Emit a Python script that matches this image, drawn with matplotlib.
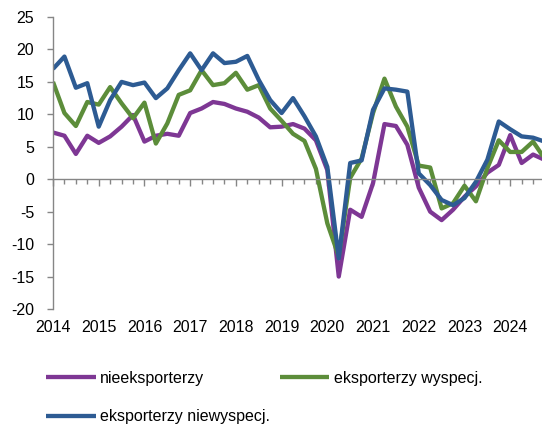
import matplotlib
matplotlib.use("Agg")
import matplotlib.pyplot as plt
import matplotlib.transforms as mtransforms
from matplotlib.ticker import MultipleLocator
import numpy as np

plt.rcParams['font.family'] = ['Liberation Sans', 'DejaVu Sans']
plt.rcParams['axes.unicode_minus'] = False

# quarterly data, 2014 Q1 - 2024 Q4
years = ['2014', '2015', '2016', '2017', '2018', '2019', '2020', '2021', '2022', '2023', '2024']

nieeksporterzy = [7.2, 6.7, 3.9, 6.7, 5.6, 6.6, 8.1, 9.9, 5.8, 6.7,
                  7.0, 6.7, 10.2, 10.9, 11.9, 11.6, 10.9, 10.4, 9.5, 8.0,
                  8.1, 8.5, 7.8, 6.0, 1.4, -15.0, -4.7, -5.8, -0.6, 8.5,
                  8.2, 5.3, -1.3, -5.0, -6.3, -4.7, -2.7, -1.1, 1.0, 2.2,
                  6.8, 2.5, 3.8, 3.0]
wyspecj = [15.0, 10.2, 8.2, 11.9, 11.5, 14.2, 11.7, 9.4, 11.8, 5.5,
           8.6, 13.0, 13.7, 16.8, 14.5, 14.8, 16.4, 13.8, 14.5, 10.9,
           9.0, 7.0, 5.9, 1.6, -6.8, -11.9, 0.2, 3.2, 10.2, 15.5,
           11.2, 8.1, 2.1, 1.8, -4.5, -3.7, -1.0, -3.4, 1.7, 6.0,
           4.2, 4.2, 5.8, 3.2]
niewyspecj = [17.0, 18.9, 14.1, 14.8, 8.1, 12.2, 15.0, 14.5, 14.9, 12.5,
              14.0, 16.8, 19.4, 16.8, 19.4, 17.9, 18.1, 19.0, 15.3, 12.2,
              10.2, 12.5, 9.7, 6.6, 1.9, -12.2, 2.5, 2.9, 10.7, 14.0,
              13.8, 13.5, 0.9, -0.9, -3.2, -4.0, -2.9, -0.4, 3.0, 8.9,
              7.7, 6.6, 6.4, 5.8]

labels = ['nieeksporterzy', 'eksporterzy wyspecj.', 'eksporterzy niewyspecj.']
colors = ['#7E3794', '#5C8D3A', '#2D5B93']

W, H = 542, 426
fig = plt.figure(figsize=(W / 100, H / 100), dpi=100)
# plot area runs a bit past the right edge like in the original
ax = fig.add_axes([53 / W, 1 - 309 / H, 491.5 / W, 292 / H])

x = np.arange(len(nieeksporterzy))
h1, = ax.plot(x, nieeksporterzy, color=colors[0], lw=3.1, solid_capstyle='butt')
h2, = ax.plot(x, wyspecj, color=colors[1], lw=3.1, solid_capstyle='butt')
h3, = ax.plot(x, niewyspecj, color=colors[2], lw=3.1, solid_capstyle='butt')

ax.set_xlim(0, len(x) - 1)
ax.set_ylim(-20, 25)
ax.yaxis.set_major_locator(MultipleLocator(5))

axis_col = '#868686'
for s in ['top', 'right']:
    ax.spines[s].set_visible(False)
ax.spines['left'].set_color(axis_col)
ax.spines['bottom'].set_color(axis_col)
ax.spines['bottom'].set_position(('data', 0))
ax.spines['left'].set_linewidth(1.0)
ax.spines['bottom'].set_linewidth(1.0)

ax.tick_params(axis='y', direction='out', length=4, width=1, color=axis_col,
               labelsize=11.5, pad=9.5, labelcolor='black')
ax.xaxis.set_major_locator(MultipleLocator(4))
ax.xaxis.set_minor_locator(MultipleLocator(1))
ax.tick_params(axis='x', which='major', direction='out', length=5, width=1,
               color=axis_col, labelbottom=False)
ax.tick_params(axis='x', which='minor', direction='out', length=3.5, width=1,
               color=axis_col)

trans = mtransforms.blended_transform_factory(ax.transData, ax.transAxes)
for k, yr in enumerate(years):
    ax.text(4 * k, -19 / 292, yr, transform=trans, ha='center', va='center',
            fontsize=11.5)

fig.legend([h1, h3, h2], [labels[0], labels[2], labels[1]], ncol=2,
           loc='upper left', bbox_to_anchor=(46 / W, 1 - 371 / H),
           frameon=False, fontsize=11.5, handlelength=3.1, handletextpad=0.3,
           columnspacing=0.6, labelspacing=1.45, borderpad=0, borderaxespad=0)

fig.savefig('out.png', dpi=100)
